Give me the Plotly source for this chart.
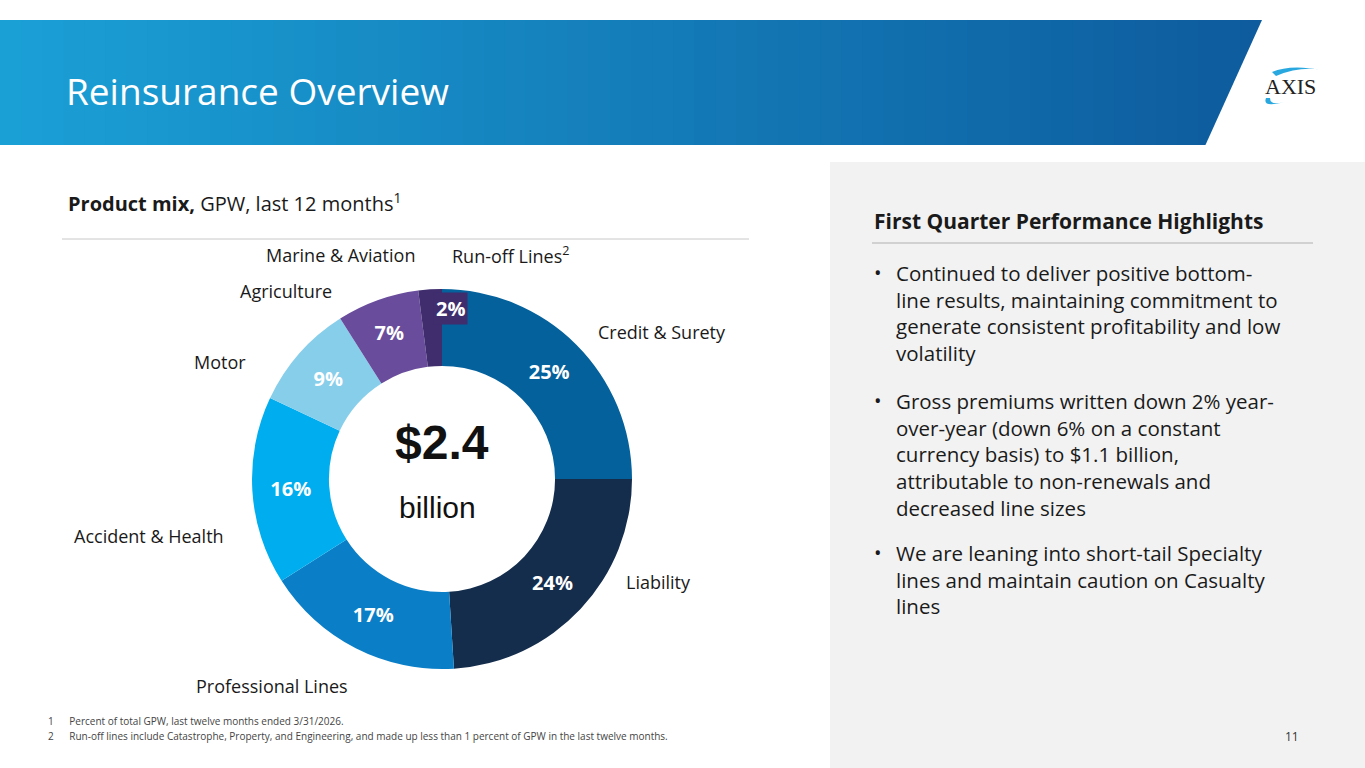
import plotly.graph_objects as go

categories = ["Credit & Surety", "Liability", "Professional Lines", "Accident & Health", "Motor", "Agriculture", "Run-off Lines"]
values = [25, 24, 17, 16, 9, 7, 2]
colors = ["#04619c", "#142d4c", "#0a7fc8", "#00aeef", "#87ceeb", "#6a4c9c", "#3f2d6e"]
slice_text = ["<b>%d%%</b>" % v if v >= 5 else "" for v in values]

W, H = 1365, 768
fig = go.Figure()
fig.add_trace(go.Pie(
    values=values, labels=categories, sort=False, direction="clockwise", rotation=0,
    hole=0.595, marker=dict(colors=colors, line=dict(width=0)),
    text=slice_text, textinfo="text", textposition="inside", insidetextorientation="horizontal",
    textfont=dict(family="Open Sans", size=20, color="white"), showlegend=False,
    domain=dict(x=[(442-190)/W, (442+190)/W], y=[1-(479+190)/H, 1-(479-190)/H]),
))

shapes = []
n = 60
x1 = 1262
c0, c1 = (27, 160, 214), (14, 92, 158)
for i in range(n):
    t = i/(n-1)
    col = "rgb(%d,%d,%d)" % tuple(int(c0[k]+(c1[k]-c0[k])*t) for k in range(3))
    shapes.append(dict(type="rect", xref="x", yref="y", x0=x1*i/n, x1=min(x1*(i+1)/n+1, 1262), y0=20, y1=145, fillcolor=col, line=dict(width=0), layer="below"))
shapes.append(dict(type="path", xref="x", yref="y", path="M1262,20 L1366,20 L1366,146 L1205,146 Z", fillcolor="white", line=dict(width=0), layer="below"))
shapes.append(dict(type="rect", xref="x", yref="y", x0=830, x1=1366, y0=162, y1=769, fillcolor="#f2f2f2", line=dict(width=0), layer="below"))
shapes.append(dict(type="line", xref="x", yref="y", x0=62, x1=749, y0=239, y1=239, line=dict(color="#c8c8c8", width=1)))
shapes.append(dict(type="line", xref="x", yref="y", x0=872, x1=1313, y0=243, y1=243, line=dict(color="#b0b0b0", width=1)))
shapes.append(dict(type="path", xref="x", yref="y", path="M1272,72 Q1290,64 1322,70 Q1300,66 1276,76 Z", fillcolor="#29a8e0", line=dict(width=0)))
shapes.append(dict(type="path", xref="x", yref="y", path="M1266,98 Q1262,108 1284,102 Q1270,106 1270,98 Z", fillcolor="#29a8e0", line=dict(width=0)))

F = "Open Sans"
ann = []
def A(x, y, t, size=16, color="#1a1a1a", xa="left", font=F, ya="middle", bg=None):
    d = dict(x=x, y=y, xref="x", yref="y", text=t, showarrow=False, xanchor=xa, yanchor=ya,
             font=dict(family=font, size=size, color=color), align="left")
    if bg:
        d.update(bgcolor=bg, borderpad=2)
    ann.append(d)

A(64, 90, "Reinsurance Overview", 37, "white")
A(1290, 86, "AXIS", 22, "#222", "center", "Liberation Serif")
A(66, 202, "<b>Product mix,</b> GPW, last 12 months<sup>1</sup>", 20)
L = 18
A(417, 255, "Marine &amp; Aviation", L, xa="right")
A(450, 255, "Run-off Lines<sup>2</sup>", L)
A(334, 291, "Agriculture", L, xa="right")
A(248, 362, "Motor", L, xa="right")
A(596, 332, "Credit &amp; Surety", L)
A(226, 536, "Accident &amp; Health", L, xa="right")
A(624, 582, "Liability", L)
A(272, 686, "Professional Lines", L, xa="center")
A(450, 308, "<b>%d%%</b>" % values[-1], 20, "white", "center", bg=colors[-1])
A(442, 442, "<b>$2.4</b>", 48, "#111", "center", "Liberation Sans")
A(437, 507, "billion", 30, "#111", "center", "Liberation Sans")
A(872, 221, "<b>First Quarter Performance Highlights</b>", 21)
bul = [
    (272, "Continued to deliver positive bottom-<br>line results, maintaining commitment to<br>generate consistent profitability and low<br>volatility"),
    (400, "Gross premiums written down 2% year-<br>over-year (down 6% on a constant<br>currency basis) to $1.1 billion,<br>attributable to non-renewals and<br>decreased line sizes"),
    (552, "We are leaning into short-tail Specialty<br>lines and maintain caution on Casualty<br>lines"),
]
for y, t in bul:
    A(872, y, "•", 20)
    ann.append(dict(x=894, y=y-15, xref="x", yref="y", text=t, showarrow=False, xanchor="left", yanchor="top",
                    font=dict(family=F, size=20.5, color="#1a1a1a"), align="left"))
A(46, 721, "1      Percent of total GPW, last twelve months ended 3/31/2026.", 10, "#444")
A(46, 736, "2      Run-off lines include Catastrophe, Property, and Engineering, and made up less than 1 percent of GPW in the last twelve months.", 10, "#444")
A(1301, 736, "11", 12, "#333", "right")

fig.update_layout(width=W, height=H, margin=dict(l=0, r=0, t=0, b=0), paper_bgcolor="white", plot_bgcolor="rgba(0,0,0,0)",
                  xaxis=dict(range=[0, W], visible=False, fixedrange=True),
                  yaxis=dict(range=[H, 0], visible=False, fixedrange=True),
                  shapes=shapes, annotations=ann)
fig.write_html("out.html", config={"displayModeBar": False},
               post_script="document.body.style.margin='0';document.body.style.overflow='hidden';")
